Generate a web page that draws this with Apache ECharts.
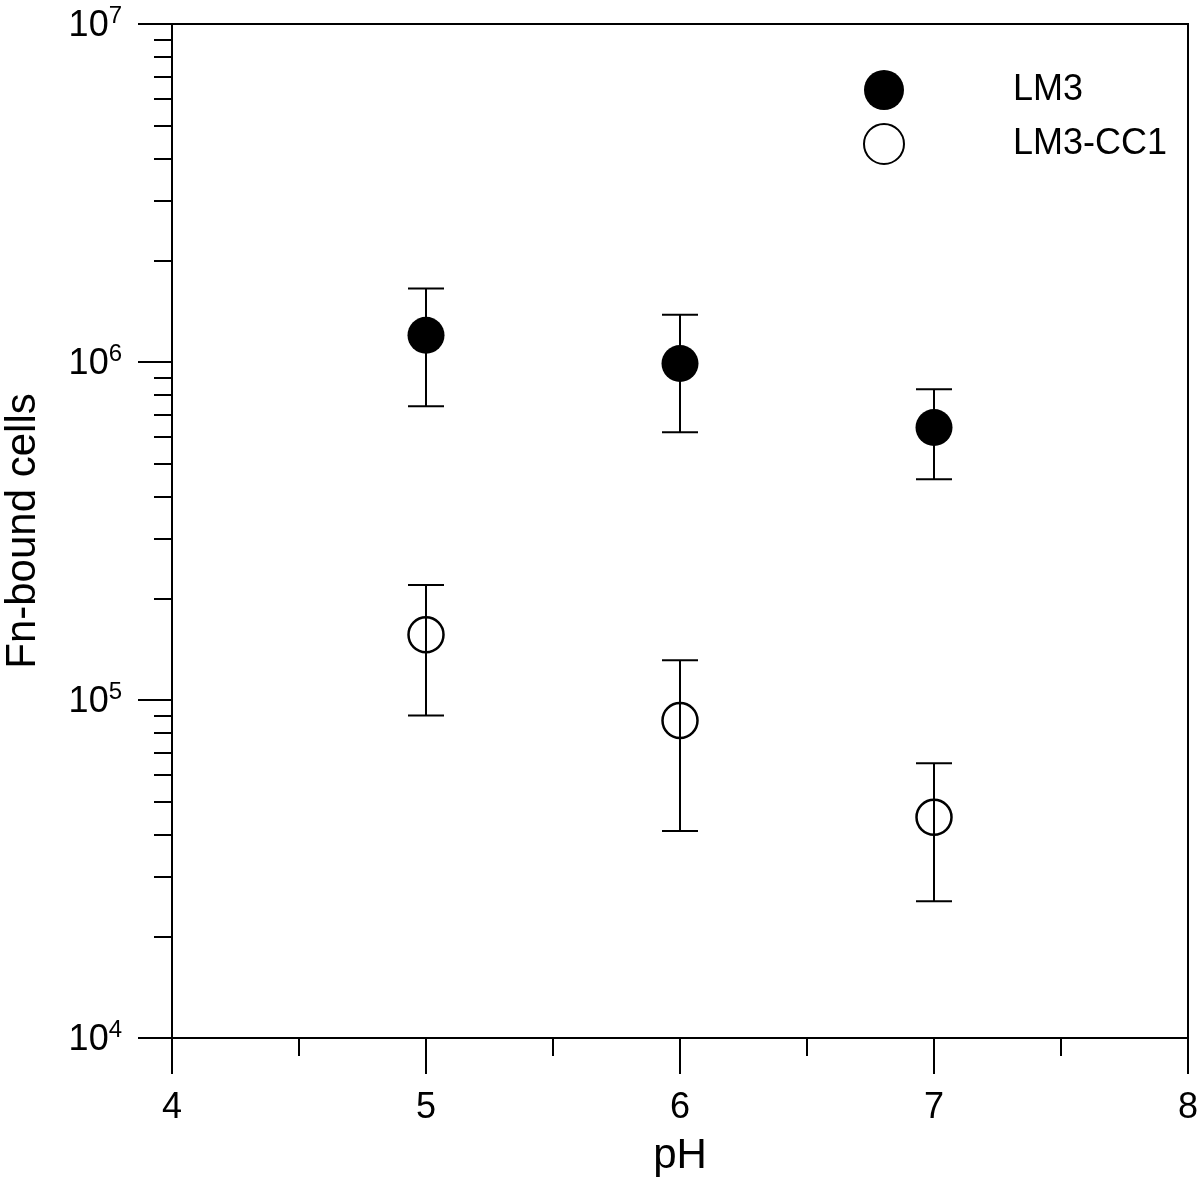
<!DOCTYPE html>
<html>
<head>
<meta charset="utf-8">
<script src="https://cdn.jsdelivr.net/npm/echarts@6/dist/echarts.min.js"></script>
<style>
  html, body { margin: 0; padding: 0; background: #fff; }
  #chart { width: 1200px; height: 1185px; }
</style>
</head>
<body>
<div id="chart"></div>
<script>
// data
var phValues = [5, 6, 7];
var lm3Mean  = [1.20e6, 9.9e5, 6.4e5];
var lm3Upper = [1.65e6, 1.38e6, 8.3e5];
var lm3Lower = [7.4e5, 6.2e5, 4.5e5];
var cc1Mean  = [1.56e5, 8.7e4, 4.5e4];
var cc1Upper = [2.19e5, 1.31e5, 6.5e4];
var cc1Lower = [9.0e4, 4.1e4, 2.54e4];
var yExponents = [4, 5, 6, 7];
var xTicks = [4, 5, 6, 7, 8];

var font = '"Liberation Sans", Arial, sans-serif';
var log = Math.log10;

// minor ticks at 2..9 x 10^n
var minorVals = [];
for (var e = yExponents[0]; e < yExponents[yExponents.length - 1]; e++) {
  for (var k = 2; k <= 9; k++) minorVals.push(log(k * Math.pow(10, e)));
}

function points(mean) {
  return phValues.map(function (x, i) { return [x, log(mean[i])]; });
}
function bars(lo, hi) {
  return phValues.map(function (x, i) { return [x, log(lo[i]), log(hi[i])]; });
}

function errorBar(params, api) {
  var x = api.value(0);
  var lo = api.coord([x, api.value(1)]);
  var hi = api.coord([x, api.value(2)]);
  var w = 18;
  var st = { stroke: '#000', lineWidth: 2 };
  return {
    type: 'group',
    children: [
      { type: 'line', shape: { x1: lo[0], y1: lo[1], x2: hi[0], y2: hi[1] }, style: st },
      { type: 'line', shape: { x1: lo[0] - w, y1: lo[1], x2: lo[0] + w, y2: lo[1] }, style: st },
      { type: 'line', shape: { x1: hi[0] - w, y1: hi[1], x2: hi[0] + w, y2: hi[1] }, style: st }
    ]
  };
}

var chart = echarts.init(document.getElementById('chart'));
chart.setOption({
  backgroundColor: '#fff',
  animation: false,
  grid: {
    left: 172, right: 12, top: 24, bottom: 147,
    outerBoundsMode: 'none', containLabel: false,
    show: true, borderColor: '#000', borderWidth: 2, backgroundColor: 'transparent'
  },
  legend: {
    data: ['LM3', 'LM3-CC1'],
    orient: 'vertical',
    left: 858, top: 65,
    itemWidth: 40, itemHeight: 40, itemGap: 13,
    formatter: function (n) { return '{t|' + n + '}'; },
    textStyle: {
      color: '#000', fontFamily: font, fontSize: 36,
      rich: { t: { color: '#000', fontFamily: font, fontSize: 36, padding: [0, 0, 0, 104] } }
    }
  },
  xAxis: {
    type: 'value', min: xTicks[0], max: xTicks[xTicks.length - 1], interval: 1,
    name: 'pH', nameLocation: 'middle', nameGap: 97,
    nameTextStyle: { color: '#000', fontFamily: font, fontSize: 42 },
    axisLine: { lineStyle: { color: '#000', width: 2 } },
    axisTick: { inside: false, length: 36, lineStyle: { color: '#000', width: 2 } },
    minorTick: { show: true, splitNumber: 2, length: 18, lineStyle: { color: '#000', width: 2 } },
    splitLine: { show: false },
    axisLabel: { color: '#000', fontFamily: font, fontSize: 36, margin: 52 }
  },
  yAxis: [{
    type: 'value', min: yExponents[0], max: yExponents[yExponents.length - 1], interval: 1,
    name: 'Fn-bound cells', nameLocation: 'middle', nameGap: 128,
    nameTextStyle: { color: '#000', fontFamily: font, fontSize: 42 },
    axisLine: { lineStyle: { color: '#000', width: 2 } },
    axisTick: { inside: false, length: 34, lineStyle: { color: '#000', width: 2 } },
    splitLine: { show: false },
    axisLabel: {
      margin: 50,
      formatter: function (v) { return '{b|10}{s|' + v + '}'; },
      rich: {
        b: { color: '#000', fontFamily: font, fontSize: 36, lineHeight: 40, padding: [4, 0, 0, 0] },
        s: { color: '#000', fontFamily: font, fontSize: 24, verticalAlign: 'top', padding: [0, 0, 14, 0] }
      }
    }
  }, {
    type: 'value', min: yExponents[0], max: yExponents[yExponents.length - 1],
    position: 'left', gridIndex: 0,
    axisLine: { show: false },
    axisLabel: { show: false },
    splitLine: { show: false },
    axisTick: { inside: false, length: 18, customValues: minorVals, lineStyle: { color: '#000', width: 2 } }
  }],
  series: [{
    name: 'LM3', type: 'scatter', symbol: 'circle', symbolSize: 37,
    itemStyle: { color: '#000', opacity: 1 },
    data: points(lm3Mean), z: 3
  }, {
    name: 'LM3-CC1', type: 'scatter', symbol: 'circle', symbolSize: 35,
    itemStyle: { color: 'rgba(255,255,255,0)', borderColor: '#000', borderWidth: 2.5, opacity: 1 },
    data: points(cc1Mean), z: 3
  }, {
    name: 'lm3err', type: 'custom', renderItem: errorBar,
    data: bars(lm3Lower, lm3Upper), z: 4, silent: true
  }, {
    name: 'cc1err', type: 'custom', renderItem: errorBar,
    data: bars(cc1Lower, cc1Upper), z: 4, silent: true
  }]
});
</script>
</body>
</html>
